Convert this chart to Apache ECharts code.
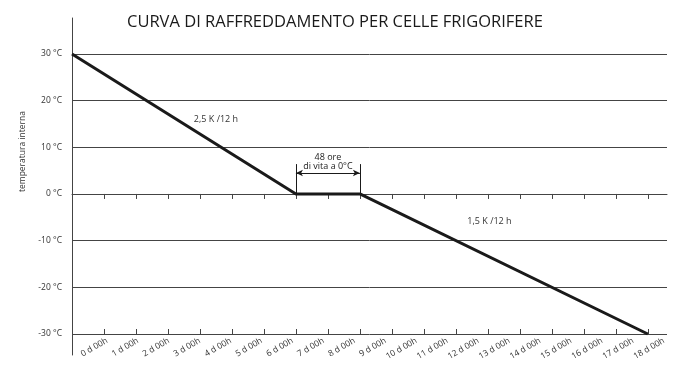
<!DOCTYPE html>
<html>
<head>
<meta charset="utf-8">
<script src="https://cdn.jsdelivr.net/npm/echarts@6/dist/echarts.min.js"></script>
<style>
  html, body { margin: 0; padding: 0; background: #fff; }
  #chart { width: 675px; height: 376px; }
</style>
</head>
<body>
<div id="chart"></div>
<script>
// Cooling curve: time in days, internal temperature in °C
const timeDays = [0, 7, 9, 18];
const temps = [30, 0, 0, -30];

// Temperature gridlines / labels
const tempTicks = [-30, -20, -10, 0, 10, 20, 30];

// Time tick marks (days) and their labels
const dayTicks = [1, 2, 3, 4, 5, 6, 7, 8, 9, 10, 11, 12, 13, 14, 15, 16, 17, 18];
const dayLabels = ['0 d 00h', '1 d 00h', '2 d 00h', '3 d 00h', '4 d 00h', '5 d 00h', '6 d 00h',
  '7 d 00h', '8 d 00h', '9 d 00h', '10 d 00h', '11 d 00h', '12 d 00h', '13 d 00h',
  '14 d 00h', '15 d 00h', '16 d 00h', '17 d 00h', '18 d 00h'];

// Slope annotations: [day, temperature, text]
const slopeNotes = [
  [4.5, 15.9, '2,5 K /12 h'],
  [13.05, -5.9, '1,5 K /12 h']
];

// Holding period at 0 °C (between the 2nd and 3rd curve points)
const holdStart = timeDays[1];
const holdEnd = timeDays[2];
const holdTemp = temps[1];
const bracketTop = 6.4;
const arrowLevel = 4.5;
const holdText = '48 ore\ndi vita a 0°C';

const FONT = 'Open Sans';
const TXT = '#333';
const GRID = '#444';

const chart = echarts.init(document.getElementById('chart'), null, { renderer: 'canvas' });

const xMin = 0, xMax = 18.6;
const yMin = -34.5, yMax = 37.7;

chart.setOption({
  animation: false,
  backgroundColor: '#fff',
  title: {
    text: 'CURVA DI RAFFREDDAMENTO PER CELLE FRIGORIFERE',
    left: 122, top: 9,
    textStyle: { fontFamily: FONT, fontSize: 16.5, fontWeight: 'normal', color: '#1a1a1a' }
  },
  grid: { left: 72, right: 8, top: 18, bottom: 21, containLabel: false },
  xAxis: [
    {
      // data axis: outward tick marks
      type: 'value', min: xMin, max: xMax, offset: -21,
      axisLine: { show: true, lineStyle: { color: GRID, width: 1 } },
      axisTick: { show: true, length: 5, customValues: dayTicks, lineStyle: { color: GRID, width: 1 } },
      axisLabel: { show: false },
      splitLine: { show: false }
    },
    {
      // inward half of the crossing tick marks
      type: 'value', min: xMin, max: xMax, offset: -21, position: 'bottom',
      axisLine: { show: false },
      axisTick: { show: true, inside: true, length: 5, customValues: dayTicks, lineStyle: { color: GRID, width: 1 } },
      axisLabel: { show: false },
      splitLine: { show: false }
    },
    {
      // time labels
      type: 'value', min: -1.13, max: 18.1, offset: -21, position: 'bottom',
      axisLine: { show: false },
      axisTick: { show: false },
      axisLabel: {
        show: true, rotate: 30, margin: 6,
        customValues: dayLabels.map((_, i) => i),
        formatter: v => dayLabels[Math.round(v)],
        fontFamily: FONT, fontSize: 8.5, color: TXT
      },
      splitLine: { show: false }
    }
  ],
  yAxis: {
    type: 'value', min: yMin, max: yMax,
    name: 'temperatura interna', nameLocation: 'middle', nameRotate: 90, nameGap: 44,
    nameTextStyle: { fontFamily: FONT, fontSize: 8.5, color: TXT, padding: [0, 0, 0, 70] },
    axisLine: { show: true, lineStyle: { color: GRID, width: 1 } },
    axisTick: { show: false, customValues: tempTicks },
    axisLabel: {
      customValues: tempTicks, margin: 10,
      formatter: v => v + ' °C',
      fontFamily: FONT, fontSize: 8.5, color: TXT
    },
    splitLine: { show: true, lineStyle: { color: GRID, width: 1 } }
  },
  series: [
    {
      type: 'line',
      xAxisIndex: 0,
      data: timeDays.map((d, i) => [d, temps[i]]),
      symbol: 'none',
      lineStyle: { color: '#1a1a1a', width: 3 },
      z: 5,
      markLine: {
        silent: true,
        symbol: 'none',
        lineStyle: { color: '#1a1a1a', width: 1, type: 'solid' },
        label: { show: false },
        data: [
          [{ coord: [holdStart, holdTemp] }, { coord: [holdStart, bracketTop] }],
          [{ coord: [holdEnd, holdTemp] }, { coord: [holdEnd, bracketTop] }],
          [
            { coord: [holdStart, arrowLevel], symbol: 'arrow', symbolSize: [5, 7] },
            {
              coord: [holdEnd, arrowLevel], symbol: 'arrow', symbolSize: [5, 7],
              label: {
                show: true, position: 'middle', formatter: holdText, distance: 2,
                fontFamily: FONT, fontSize: 9, lineHeight: 9, color: '#222'
              }
            }
          ]
        ]
      },
      markPoint: {
        silent: true,
        symbol: 'circle', symbolSize: 1,
        itemStyle: { color: 'rgba(0,0,0,0)' },
        label: { show: true, position: 'inside', fontFamily: FONT, fontSize: 9, color: TXT, formatter: p => p.name },
        data: slopeNotes.map(n => ({ coord: [n[0], n[1]], name: n[2] }))
      }
    }
  ]
});
</script>
</body>
</html>
